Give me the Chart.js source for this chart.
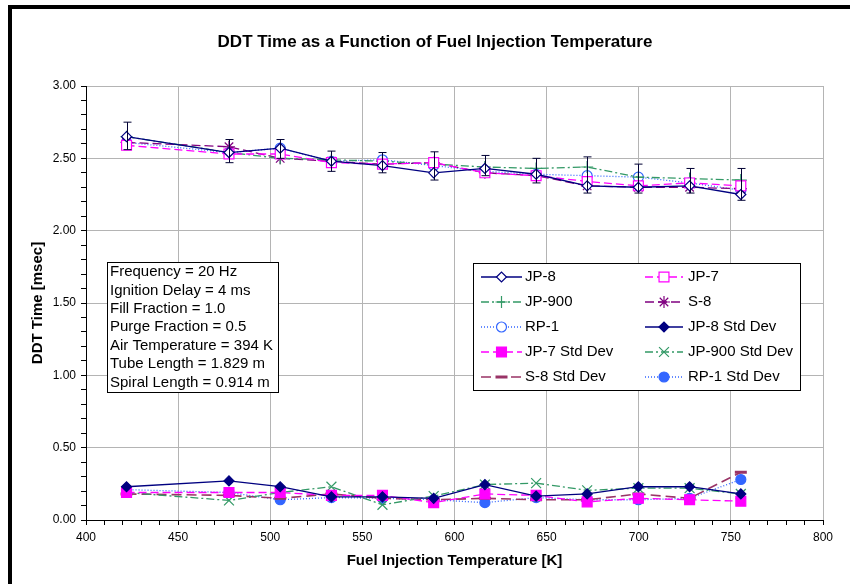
<!DOCTYPE html>
<html>
<head>
<meta charset="utf-8">
<script src="https://cdn.jsdelivr.net/npm/chart.js@4/dist/chart.umd.min.js"></script>
<style>
  body { margin: 0; background: #fff; }
  #wrap { position: relative; width: 850px; height: 584px; }
  #frame { position: absolute; left: 8px; top: 5px; right: 0; bottom: 0;
           border-top: 4px solid #000; border-left: 4px solid #000; pointer-events: none; }
</style>
</head>
<body>
<div id="wrap">
  <canvas id="ddtChart" width="850" height="584"></canvas>
  <div id="frame"></div>
</div>
<script>
// fuel injection temperatures [K]
const temps = [422.0, 477.6, 505.4, 533.2, 560.9, 588.7, 616.5, 644.3, 672.0, 699.8, 727.6, 755.4];

// mean DDT time [msec]
const jp8   = [2.65, 2.54, 2.57, 2.48, 2.45, 2.40, 2.43, 2.39, 2.31, 2.30, 2.31, 2.25];
const jp7   = [2.59, 2.53, 2.53, 2.47, 2.46, 2.47, 2.40, 2.38, 2.34, 2.31, 2.33, 2.31];
const jp900 = [2.65, 2.54, 2.50, 2.49, 2.48, 2.46, 2.44, 2.43, 2.44, 2.37, 2.36, 2.35];
const s8    = [2.61, 2.58, 2.50, 2.48, 2.46, 2.47, 2.40, 2.38, 2.31, 2.30, 2.30, 2.29];
const rp1   = [2.61, 2.54, 2.57, 2.48, 2.49, 2.45, 2.41, 2.39, 2.38, 2.37, 2.33, 2.28];

// standard deviations [msec]
const jp8Sd   = [0.23, 0.27, 0.23, 0.16, 0.16, 0.15, 0.245, 0.165, 0.18, 0.23, 0.23, 0.18];
const jp7Sd   = [0.19, 0.19, 0.19, 0.17, 0.17, 0.12, 0.18, 0.17, 0.125, 0.15, 0.14, 0.13];
const jp900Sd = [0.19, 0.135, 0.19, 0.23, 0.105, 0.165, 0.245, 0.255, 0.205, 0.22, 0.22, 0.18];
const s8Sd    = [0.18, 0.17, 0.15, 0.18, 0.15, 0.14, 0.15, 0.14, 0.14, 0.18, 0.15, 0.33];
const rp1Sd   = [0.21, 0.19, 0.14, 0.155, 0.15, 0.14, 0.12, 0.155, 0.14, 0.14, 0.15, 0.28];

// error bar ends on the upper curves
const errHigh = [2.75, 2.63, 2.63, 2.55, 2.54, 2.545, 2.52, 2.50, 2.51, 2.46, 2.43, 2.43];
const errLow  = [2.56, 2.47, 2.50, 2.41, 2.40, 2.35, 2.38, 2.33, 2.26, 2.26, 2.26, 2.21];

const infoLines = [
  'Frequency = 20 Hz',
  'Ignition Delay = 4 ms',
  'Fill Fraction = 1.0',
  'Purge Fraction = 0.5',
  'Air Temperature = 394 K',
  'Tube Length = 1.829 m',
  'Spiral Length = 0.914 m'
];

const pts = (arr) => arr.map((v, i) => ({ x: temps[i], y: v }));

function series(label, arr, color, dash, style, radius, filled, extra) {
  return Object.assign({
    label: label,
    data: pts(arr),
    borderColor: color,
    backgroundColor: filled ? color : '#ffffff',
    borderWidth: 1.3,
    borderDash: dash,
    pointStyle: style,
    pointRadius: radius,
    pointHoverRadius: radius,
    pointBorderColor: color,
    pointBackgroundColor: filled ? color : '#ffffff',
    pointBorderWidth: 1.2,
    tension: 0,
    fill: false
  }, extra || {});
}

const datasets = [
  series('JP-8', jp8, '#000080', [], 'rectRot', 5, false),
  series('JP-7', jp7, '#ff00ff', [8, 4], 'rect', 7, false),
  series('JP-900', jp900, '#339966', [8, 3, 2, 3], 'cross', 6, false),
  series('S-8', s8, '#800080', [9, 4], 'star', 6, false),
  series('RP-1', rp1, '#3366ff', [1, 2], 'circle', 5, false),
  series('JP-8 Std Dev', jp8Sd, '#000080', [], 'rectRot', 5, true),
  series('JP-7 Std Dev', jp7Sd, '#ff00ff', [8, 4], 'rect', 7, true),
  series('JP-900 Std Dev', jp900Sd, '#339966', [8, 3, 2, 3], 'crossRot', 7, false),
  series('S-8 Std Dev', s8Sd, '#993366', [10, 5], 'line', 6, true, { pointBorderWidth: 3, borderWidth: 1.6 }),
  series('RP-1 Std Dev', rp1Sd, '#3366ff', [1, 2], 'circle', 5, true)
];

const decorations = {
  id: 'decorations',
  beforeDraw(chart) {
    const ctx = chart.ctx;
    ctx.save();
    ctx.fillStyle = '#ffffff';
    ctx.fillRect(0, 0, chart.width, chart.height);
    ctx.fillStyle = '#000';
    ctx.font = 'bold 17px "Liberation Sans", Arial, sans-serif';
    ctx.textAlign = 'center';
    ctx.textBaseline = 'middle';
    ctx.fillText('DDT Time as a Function of Fuel Injection Temperature', 435, 42);
    ctx.restore();
  },
  afterDatasetsDraw(chart) {
    const ctx = chart.ctx;
    const xs = chart.scales.x, ys = chart.scales.y;
    ctx.save();
    ctx.strokeStyle = '#000033';
    ctx.lineWidth = 1;
    temps.forEach((t, i) => {
      const x = Math.round(xs.getPixelForValue(t)) + 0.5;
      const y1 = ys.getPixelForValue(errHigh[i]);
      const y2 = ys.getPixelForValue(errLow[i]);
      ctx.beginPath();
      ctx.moveTo(x, y1); ctx.lineTo(x, y2);
      ctx.moveTo(x - 4, y1); ctx.lineTo(x + 4, y1);
      ctx.moveTo(x - 4, y2); ctx.lineTo(x + 4, y2);
      ctx.stroke();
    });
    ctx.restore();
  },
  afterDraw(chart) {
    const ctx = chart.ctx;
    ctx.save();
    // info box
    ctx.fillStyle = '#fff';
    ctx.fillRect(107.5, 262.5, 171, 130);
    ctx.strokeStyle = '#000';
    ctx.lineWidth = 1;
    ctx.strokeRect(107.5, 262.5, 171, 130);
    ctx.fillStyle = '#000';
    ctx.font = '15px "Liberation Sans", Arial, sans-serif';
    ctx.textAlign = 'left';
    ctx.textBaseline = 'middle';
    infoLines.forEach((s, i) => ctx.fillText(s, 110, 272 + i * 18.4));

    // legend
    ctx.fillStyle = '#fff';
    ctx.fillRect(473.5, 263.5, 327, 127);
    ctx.strokeRect(473.5, 263.5, 327, 127);
    const cols = [{ x0: 481, x1: 522, tx: 525 }, { x0: 645, x1: 683, tx: 688 }];
    chart.data.datasets.forEach((ds, i) => {
      const c = cols[i % 2];
      const y = 277 + Math.floor(i / 2) * 25;
      ctx.save();
      ctx.strokeStyle = ds.borderColor;
      ctx.lineWidth = ds.borderWidth;
      ctx.setLineDash(ds.borderDash);
      ctx.beginPath();
      ctx.moveTo(c.x0, y); ctx.lineTo(c.x1, y);
      ctx.stroke();
      ctx.setLineDash([]);
      ctx.fillStyle = ds.pointBackgroundColor;
      ctx.strokeStyle = ds.pointBorderColor;
      ctx.lineWidth = ds.pointBorderWidth;
      Chart.helpers.drawPoint(ctx, {
        pointStyle: ds.pointStyle, radius: ds.pointRadius, rotation: 0, borderWidth: ds.pointBorderWidth
      }, (c.x0 + c.x1) / 2, y);
      ctx.restore();
      ctx.fillStyle = '#000';
      ctx.fillText(ds.label, c.tx, y);
    });
    ctx.restore();
  }
};

const tickFont = { family: '"Liberation Sans", Arial, sans-serif', size: 12 };
const titleFont = { family: '"Liberation Sans", Arial, sans-serif', size: 15, weight: 'bold' };

const config = {
  type: 'line',
  data: { datasets: datasets },
  options: {
    responsive: false,
    animation: false,
    layout: { padding: { left: 12, right: 27, top: 86, bottom: 0 } },
    plugins: { legend: { display: false }, title: { display: false }, tooltip: { enabled: false } },
    scales: {
      x: {
        type: 'linear',
        min: 400, max: 800,
        afterFit: (s) => { s.height = 64; },
        border: { color: '#000', width: 1 },
        grid: {
          color: (c) => (c.tick && c.tick.value % 50 === 0 ? '#b4b4b4' : 'rgba(0,0,0,0)'),
          tickColor: '#000', tickLength: 5, lineWidth: 1
        },
        ticks: {
          stepSize: 10, maxTicksLimit: 100, autoSkip: false, maxRotation: 0,
          padding: 5, color: '#000', font: tickFont,
          callback: (v) => (v % 50 === 0 ? String(v) : '')
        },
        title: { display: true, text: 'Fuel Injection Temperature [K]', color: '#000', font: titleFont,
                 padding: { top: 0, bottom: 14 } }
      },
      y: {
        min: 0, max: 3,
        afterFit: (s) => { s.width = 74; },
        border: { color: '#000', width: 1 },
        grid: {
          color: (c) => (c.tick && Math.round(c.tick.value * 10) % 5 === 0 ? '#b4b4b4' : 'rgba(0,0,0,0)'),
          tickColor: '#000', tickLength: 5, lineWidth: 1
        },
        ticks: {
          stepSize: 0.1, maxTicksLimit: 100, autoSkip: false,
          padding: 5, color: '#000', font: tickFont,
          callback: (v) => (Math.round(v * 10) % 5 === 0 ? Number(v).toFixed(2) : '')
        },
        title: { display: true, text: 'DDT Time [msec]', color: '#000', font: titleFont,
                 padding: { top: 17, bottom: 0 } }
      }
    }
  },
  plugins: [decorations]
};

const myChart = new Chart(document.getElementById('ddtChart'), config);
</script>
</body>
</html>
